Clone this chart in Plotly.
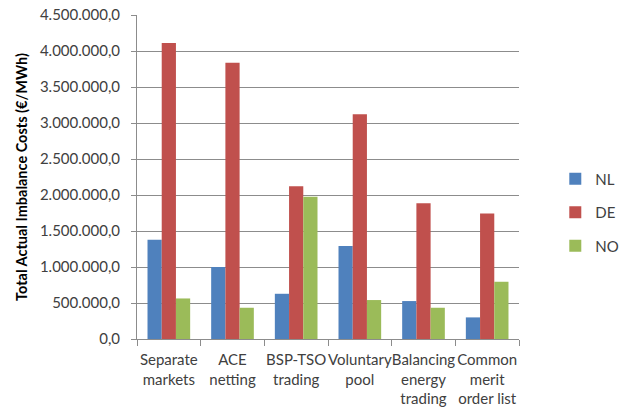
import plotly.graph_objects as go

categories = [
    "Separate<br>markets",
    "ACE<br>netting",
    "BSP-TSO<br>trading",
    "Voluntary<br>pool",
    "Balancing<br>energy<br>trading",
    "Common<br>merit<br>order list",
]
nl_values = [1380000, 1000000, 628000, 1290000, 527000, 300000]
de_values = [4110000, 3836000, 2122000, 3120000, 1886000, 1742000]
no_values = [563000, 434000, 1974000, 541000, 434000, 795000]
y_ticks = [i * 500000 for i in range(10)]

FONT = "Lato, 'Liberation Sans', sans-serif"
TEXT = "#404040"
GRID = "#8c8c8c"

fig = go.Figure()
for name, vals, color in [
    ("NL", nl_values, "#4F81BD"),
    ("DE", de_values, "#C0504D"),
    ("NO", no_values, "#9BBB59"),
]:
    fig.add_trace(go.Bar(
        x=categories, y=vals, name=name, legendgroup=name,
        marker=dict(color=color, line=dict(width=0)),
    ))

fig.update_layout(
    width=636, height=410,
    margin=dict(l=137, r=72, t=15, b=71),
    paper_bgcolor="white", plot_bgcolor="white",
    separators=",.",
    barmode="group", bargap=0.33, bargroupgap=0,
    font=dict(family=FONT, size=14, color=TEXT),
    legend=dict(
        x=1.095, xanchor="left", y=0.545, yanchor="top",
        font=dict(family=FONT, size=15, color=TEXT),
        tracegroupgap=11, itemwidth=30,
    ),
    showlegend=True,
)
fig.update_xaxes(
    showline=True, linecolor=GRID, linewidth=1,
    ticks="outside", tickson="boundaries", ticklen=6, tickcolor=GRID,
    tickfont=dict(family=FONT, size=15, color=TEXT),
    tickangle=0, automargin=False, ticklabelstandoff=7,
    showgrid=False,
)
fig.update_yaxes(
    range=[0, 4500000], tickvals=y_ticks, tickformat=",.1f",
    showline=True, linecolor=GRID, linewidth=1,
    ticks="outside", ticklen=5, tickcolor=GRID,
    showgrid=True, gridcolor=GRID, gridwidth=1,
    zeroline=False, automargin=False,
    tickfont=dict(family=FONT, size=15, color=TEXT),
    ticklabelstandoff=8,
    title=dict(text="<b>Total Actual Imbalance Costs (€/MWh)</b>",
               font=dict(family=FONT, size=14.5, color="#000000"), standoff=8),
)

fig.write_html("out.html")
